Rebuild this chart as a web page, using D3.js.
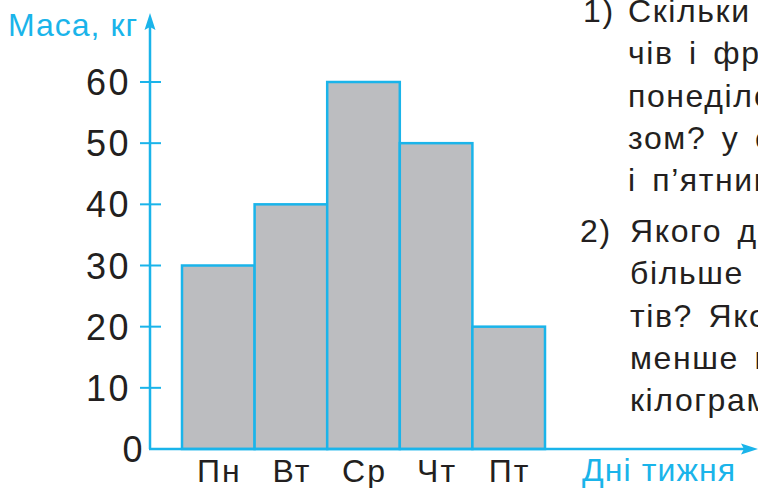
<!DOCTYPE html>
<html>
<head>
<meta charset="utf-8">
<script src="https://cdn.jsdelivr.net/npm/d3@7"></script>
<style>
  body { margin: 0; background: #fff; }
  svg { display: block; }
</style>
</head>
<body>
<svg id="chart" width="758" height="488"></svg>
<script>
// дані діаграми
const days = ["Пн", "Вт", "Ср", "Чт", "Пт"];
const masses = [30, 40, 60, 50, 20];
const yTicks = [0, 10, 20, 30, 40, 50, 60];
const yTitle = "Маса, кг";
const xTitle = "Дні тижня";
const taskNumbers = ["1)", "2)"];
const taskLines = [
    ["Скільки кілограмів ово-",
     "чів і фруктів продали в",
     "понеділок і вівторок ра-",
     "зом? у середу, четвер",
     "і п’ятницю разом?"],
    ["Якого дня продали",
     "більше всього продук-",
     "тів? Якого дня продали",
     "менше всього? На скільки",
     "кілограмів?"]
];

const blue = "#1ab4ea";
const dark = "#231f20";
const svg = d3.select("#chart");

const x0 = 150, y0 = 449;
const x = d3.scaleBand()
    .domain(days)
    .range([182, 545])
    .padding(0);
const y = d3.scaleLinear()
    .domain([0, 60])
    .range([y0, 82]);

// Стовпчики
svg.append("g")
    .selectAll("rect")
    .data(masses)
    .enter()
    .append("rect")
    .attr("x", (d, i) => x(days[i]))
    .attr("y", d => y(d))
    .attr("width", x.bandwidth())
    .attr("height", d => y0 - y(d))
    .style("fill", "#bcbdc0")
    .style("stroke", blue)
    .style("stroke-width", 2.5);

// Осі
svg.append("line")
    .attr("x1", x0).attr("y1", y0)
    .attr("x2", x0).attr("y2", 26)
    .style("stroke", blue).style("stroke-width", 2.5);
svg.append("path")
    .attr("d", `M${x0},13 L${x0 + 5.5},30 L${x0},27 L${x0 - 5.5},30 Z`)
    .style("fill", blue);

svg.append("line")
    .attr("x1", x0 - 1).attr("y1", y0)
    .attr("x2", 745).attr("y2", y0)
    .style("stroke", blue).style("stroke-width", 2.5);
svg.append("path")
    .attr("d", `M758,${y0} L741,${y0 - 5.5} L744,${y0} L741,${y0 + 5.5} Z`)
    .style("fill", blue);

// Поділки осі Y
svg.append("g")
    .selectAll("line")
    .data(yTicks.filter(d => d > 0))
    .enter()
    .append("line")
    .attr("x1", x0 - 10).attr("x2", x0 + 11)
    .attr("y1", d => y(d)).attr("y2", d => y(d))
    .style("stroke", blue).style("stroke-width", 2);

svg.append("g")
    .selectAll("text")
    .data(yTicks)
    .enter()
    .append("text")
    .attr("x", d => d === 0 ? x0 - 5 : x0 - 19)
    .attr("y", d => y(d) + 13)
    .attr("text-anchor", "end")
    .style("font-size", "36px")
    .style("letter-spacing", "2.5px")
    .style("fill", dark)
    .text(d => d);

// Підписи днів
svg.append("g")
    .selectAll("text")
    .data(days)
    .enter()
    .append("text")
    .attr("x", d => x(d) + x.bandwidth() / 2 + 1)
    .attr("y", 482)
    .attr("text-anchor", "middle")
    .style("font-size", "32px")
    .style("letter-spacing", "2px")
    .style("fill", dark)
    .text(d => d);

svg.append("text")
    .attr("x", 8).attr("y", 36)
    .style("font-size", "32px")
    .style("letter-spacing", "1px")
    .style("fill", blue)
    .text(yTitle);

svg.append("text")
    .attr("x", 582).attr("y", 481)
    .style("font-size", "32px")
    .style("letter-spacing", "1.1px")
    .style("fill", blue)
    .text(xTitle);

// Текст завдання праворуч
const task = svg.append("g");
const taskTop = [22, 242];
taskLines.forEach((lines, k) => {
    task.append("text")
        .attr("x", k === 0 ? 583 : 580).attr("y", taskTop[k])
        .text(taskNumbers[k]);
    lines.forEach((l, i) => {
        task.append("text")
            .attr("x", 628 + k * 2).attr("y", taskTop[k] + i * 42.3)
            .style("word-spacing", "5px")
            .text(l);
    });
});
task.selectAll("text")
    .style("font-size", "32px")
    .style("letter-spacing", "1.6px")
    .style("fill", dark);

svg.selectAll("text")
    .style("font-family", "'Liberation Sans', Arial, sans-serif");
</script>
</body>
</html>
